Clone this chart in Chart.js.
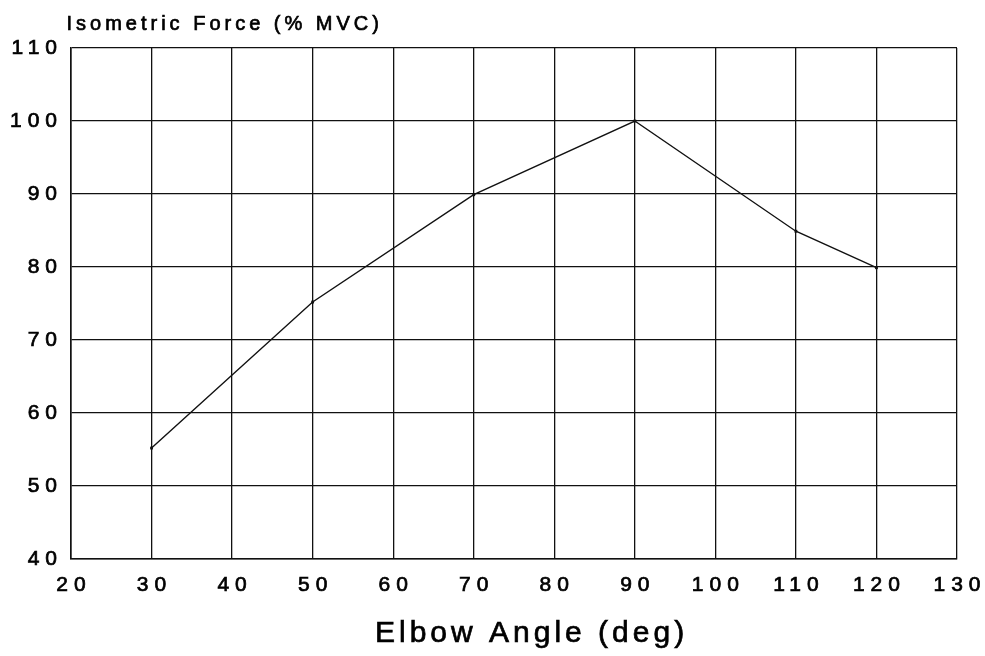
<!DOCTYPE html>
<html>
<head>
<meta charset="utf-8">
<script src="https://cdn.jsdelivr.net/npm/chart.js@4"></script>
<style>
    body {margin: 0; background: #fff;}
    canvas {display: block;}
</style>
</head>
<body>
<canvas id="forceChart" width="985" height="656"></canvas>
<script>
// elbow angle (deg) and isometric force (% MVC)
const elbowAngles = [30, 50, 70, 90, 110, 120];
const forceValues = [55.2, 75.2, 89.9, 100, 84.9, 79.9];

const xTicksRange = [20, 130, 10];
const yTicksRange = [40, 110, 10];

const yTitle = "Isometric Force (% MVC)";
const xTitle = "Elbow Angle (deg)";

var points = elbowAngles.map((a, i) => ({x: a, y: forceValues[i]}));

var fontName = "'Liberation Sans', Arial, sans-serif";
var tickSpacing = 6;

// the old plot font is wide, so spread the letters a bit
const wideText = {
    id: 'wideText',
    beforeLayout(chart) {chart.ctx.letterSpacing = tickSpacing + "px"},
    beforeDraw(chart) {
        var ctx = chart.ctx;
        ctx.save();
        ctx.fillStyle = "#fff";
        ctx.fillRect(0, 0, chart.width, chart.height);
        ctx.restore();
        ctx.letterSpacing = tickSpacing + "px";
    },
    afterDraw(chart) {
        var ctx = chart.ctx;
        var area = chart.chartArea;
        ctx.save();
        ctx.fillStyle = "#000";
        ctx.strokeStyle = "#000";
        ctx.lineWidth = 0.7;
        ctx.textAlign = "left";
        ctx.textBaseline = "alphabetic";
        // axis titles
        ctx.letterSpacing = "4px";
        ctx.font = "20px " + fontName;
        ctx.fillText(yTitle, area.left - 4.5, area.top - 18);
        ctx.strokeText(yTitle, area.left - 4.5, area.top - 18);
        ctx.font = "30px " + fontName;
        ctx.fillText(xTitle, 375, chart.height - 14);
        ctx.strokeText(xTitle, 375, chart.height - 14);
        ctx.restore();
    }
};

new Chart("forceChart", {
    type: "scatter",
    data: {
        datasets: [{
            data: points,
            showLine: true,
            tension: 0,
            borderColor: "#111",
            borderWidth: 1.4,
            backgroundColor: "#111",
            pointStyle: "rect",
            pointRadius: 2,
            pointBorderWidth: 0
        }]
    },
    options: {
        responsive: false,
        animation: false,
        layout: {
            padding: {left: 0, right: 28, top: 48, bottom: 0}
        },
        plugins: {
            legend: {display: false},
            tooltip: {enabled: false}
        },
        scales: {
            x: {
                type: "linear",
                min: xTicksRange[0],
                max: xTicksRange[1],
                afterFit: s => {
                    s.height = 97;
                    s.paddingLeft = 0;
                    s.paddingRight = 0;
                },
                grid: {color: "#111", lineWidth: 1.3, drawTicks: false},
                border: {color: "#111", width: 1.6},
                ticks: {
                    stepSize: xTicksRange[2],
                    color: "#000",
                    textStrokeColor: "#000",
                    textStrokeWidth: 0.7,
                    padding: 14,
                    labelOffset: tickSpacing / 2,
                    maxRotation: 0,
                    font: {family: fontName, size: 21}
                }
            },
            y: {
                min: yTicksRange[0],
                max: yTicksRange[1],
                afterFit: s => {s.width = 71},
                grid: {color: "#111", lineWidth: 1.3, drawTicks: false},
                border: {color: "#111", width: 1.6},
                ticks: {
                    stepSize: yTicksRange[2],
                    color: "#000",
                    textStrokeColor: "#000",
                    textStrokeWidth: 0.7,
                    padding: 14 - tickSpacing,
                    font: {family: fontName, size: 21}
                }
            }
        }
    },
    plugins: [wideText]
});
</script>
</body>
</html>
